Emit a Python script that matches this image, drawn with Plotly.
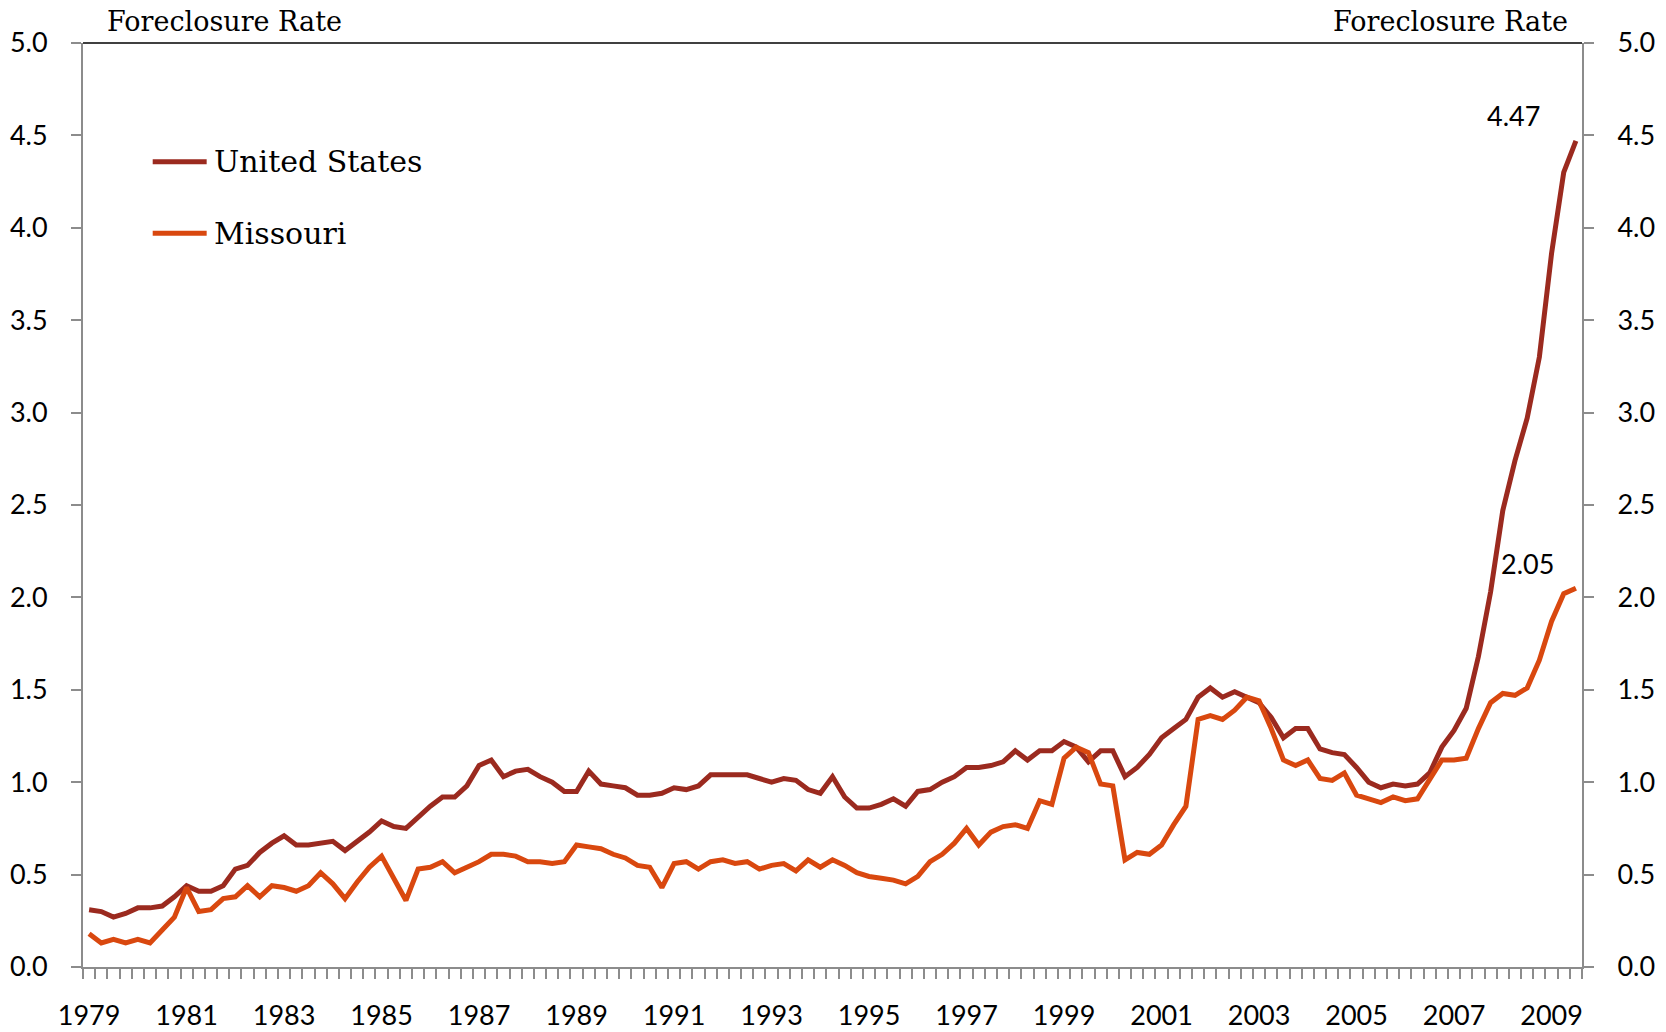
import plotly.graph_objects as go

# ---- data (quarterly, 1979Q1 - 2009Q3) ----
years = list(range(1979, 2010))
quarters = [f"{y}Q{q}" for y in years for q in range(1, 5)][:123]

us_rate = [
    0.31, 0.30, 0.27, 0.29, 0.32, 0.32, 0.33, 0.38, 0.44, 0.41,
    0.41, 0.44, 0.53, 0.55, 0.62, 0.67, 0.71, 0.66, 0.66, 0.67,
    0.68, 0.63, 0.68, 0.73, 0.79, 0.76, 0.75, 0.81, 0.87, 0.92,
    0.92, 0.98, 1.09, 1.12, 1.03, 1.06, 1.07, 1.03, 1.00, 0.95,
    0.95, 1.06, 0.99, 0.98, 0.97, 0.93, 0.93, 0.94, 0.97, 0.96,
    0.98, 1.04, 1.04, 1.04, 1.04, 1.02, 1.00, 1.02, 1.01, 0.96,
    0.94, 1.03, 0.92, 0.86, 0.86, 0.88, 0.91, 0.87, 0.95, 0.96,
    1.00, 1.03, 1.08, 1.08, 1.09, 1.11, 1.17, 1.12, 1.17, 1.17,
    1.22, 1.19, 1.11, 1.17, 1.17, 1.03, 1.08, 1.15, 1.24, 1.29,
    1.34, 1.46, 1.51, 1.46, 1.49, 1.46, 1.43, 1.35, 1.24, 1.29,
    1.29, 1.18, 1.16, 1.15, 1.08, 1.00, 0.97, 0.99, 0.98, 0.99,
    1.05, 1.19, 1.28, 1.40, 1.68, 2.03, 2.47, 2.74, 2.97, 3.30,
    3.86, 4.30, 4.47,
]

mo_rate = [
    0.18, 0.13, 0.15, 0.13, 0.15, 0.13, 0.20, 0.27, 0.43, 0.30,
    0.31, 0.37, 0.38, 0.44, 0.38, 0.44, 0.43, 0.41, 0.44, 0.51,
    0.45, 0.37, 0.46, 0.54, 0.60, 0.48, 0.36, 0.53, 0.54, 0.57,
    0.51, 0.54, 0.57, 0.61, 0.61, 0.60, 0.57, 0.57, 0.56, 0.57,
    0.66, 0.65, 0.64, 0.61, 0.59, 0.55, 0.54, 0.43, 0.56, 0.57,
    0.53, 0.57, 0.58, 0.56, 0.57, 0.53, 0.55, 0.56, 0.52, 0.58,
    0.54, 0.58, 0.55, 0.51, 0.49, 0.48, 0.47, 0.45, 0.49, 0.57,
    0.61, 0.67, 0.75, 0.66, 0.73, 0.76, 0.77, 0.75, 0.90, 0.88,
    1.13, 1.19, 1.16, 0.99, 0.98, 0.58, 0.62, 0.61, 0.66, 0.77,
    0.87, 1.34, 1.36, 1.34, 1.39, 1.46, 1.44, 1.29, 1.12, 1.09,
    1.12, 1.02, 1.01, 1.05, 0.93, 0.91, 0.89, 0.92, 0.90, 0.91,
    1.01, 1.12, 1.12, 1.13, 1.29, 1.43, 1.48, 1.47, 1.51, 1.66,
    1.87, 2.02, 2.05,
]

series_names = ["United States", "Missouri"]
label_years = [str(y) for y in range(1979, 2010, 2)]

# ---- styling ----
US_COLOR = "#9B2A1F"
MO_COLOR = "#D9480F"
AXIS_GRAY = "#8C8C8C"
TICK_FONT = dict(family="Lato", size=27, color="black")
SERIF = "DejaVu Serif"
LINE_W = 5

x_idx = list(range(len(quarters)))
label_pos = [quarters.index(f"{y}Q1") for y in label_years]
boundaries = [i - 0.5 for i in range(len(quarters) + 1)]

fig = go.Figure()
fig.add_trace(go.Scatter(
    x=x_idx, y=us_rate, mode="lines", name=series_names[0],
    line=dict(color=US_COLOR, width=LINE_W), yaxis="y",
    customdata=quarters, hovertemplate="%{customdata}: %{y:.2f}<extra>United States</extra>",
))
fig.add_trace(go.Scatter(
    x=x_idx, y=mo_rate, mode="lines", name=series_names[1],
    line=dict(color=MO_COLOR, width=LINE_W), yaxis="y2",
    customdata=quarters, hovertemplate="%{customdata}: %{y:.2f}<extra>Missouri</extra>",
))

yaxis_common = dict(
    range=[0, 5], tick0=0, dtick=0.5, tickformat=".1f",
    ticks="outside", ticklen=10, tickwidth=1.5, tickcolor=AXIS_GRAY,
    showline=True, linecolor=AXIS_GRAY, linewidth=2,
    showgrid=False, zeroline=False, tickfont=TICK_FONT,
    ticklabelstandoff=18, fixedrange=True, automargin=False,
)

fig.update_layout(
    width=1666, height=1032,
    margin=dict(l=83, r=84, t=43, b=65, autoexpand=False),
    paper_bgcolor="white", plot_bgcolor="white",
    showlegend=False,
    xaxis=dict(
        range=[-0.5, len(quarters) - 0.5],
        tickmode="array", tickvals=label_pos, ticktext=label_years,
        ticks="", tickfont=TICK_FONT, ticklabelstandoff=24,
        showline=True, linecolor=AXIS_GRAY, linewidth=2,
        showgrid=False, zeroline=False, automargin=False, fixedrange=True,
        minor=dict(tickmode="array", tickvals=boundaries, ticks="outside",
                   ticklen=10, tickwidth=1.5, tickcolor=AXIS_GRAY, showgrid=False),
    ),
    yaxis=dict(side="left", **yaxis_common),
    yaxis2=dict(side="right", overlaying="y", **yaxis_common),
)

# top border of plot area
fig.add_shape(type="line", xref="paper", yref="paper", x0=0, x1=1, y0=1, y1=1,
              line=dict(color="black", width=1.5))

# axis titles
fig.add_annotation(text="Foreclosure Rate", xref="paper", yref="paper",
                   x=0.0147, y=1.0238, xanchor="left", yanchor="middle",
                   showarrow=False, font=dict(family=SERIF, size=27, color="black"))
fig.add_annotation(text="Foreclosure Rate", xref="paper", yref="paper",
                   x=0.992, y=1.0238, xanchor="right", yanchor="middle",
                   showarrow=False, font=dict(family=SERIF, size=27, color="black"))

# legend (manual, inside the plot)
legend_items = [(series_names[0], US_COLOR, 0.8715), (series_names[1], MO_COLOR, 0.794)]
for name, color, ypos in legend_items:
    fig.add_shape(type="line", xref="paper", yref="paper", x0=0.0465, x1=0.0825,
                  y0=ypos, y1=ypos, line=dict(color=color, width=LINE_W))
    fig.add_annotation(text=name, xref="paper", yref="paper", x=0.0859, y=ypos,
                       xanchor="left", yanchor="middle", showarrow=False,
                       font=dict(family=SERIF, size=30, color="black"))

# end-value labels
fig.add_annotation(text=f"{us_rate[-1]:.2f}", x=x_idx[-1], y=us_rate[-1], yref="y",
                   showarrow=False, xshift=-62, yshift=25,
                   font=dict(family="Lato", size=27, color="black"))
fig.add_annotation(text=f"{mo_rate[-1]:.2f}", x=x_idx[-1], y=mo_rate[-1], yref="y",
                   showarrow=False, xshift=-48, yshift=25,
                   font=dict(family="Lato", size=27, color="black"))

# remove the default 8px page margin so the 1666x1032 figure fills the window exactly
fig.write_html(
    "out.html",
    config={"displayModeBar": False},
    post_script="document.body.style.margin='0';document.body.style.overflow='hidden';",
)
